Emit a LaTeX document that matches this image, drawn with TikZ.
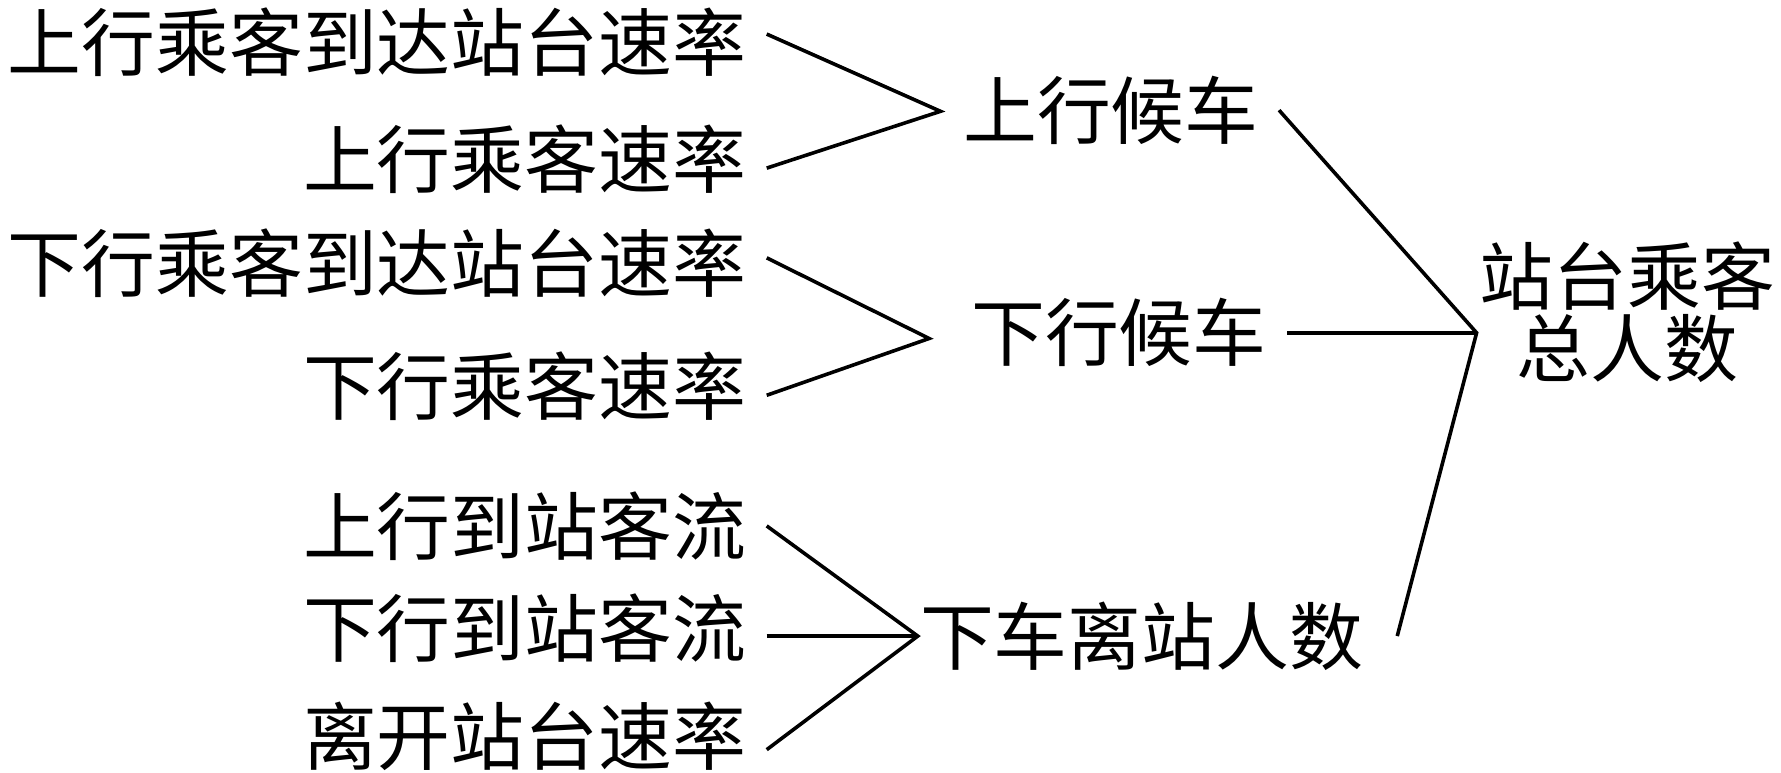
\documentclass[tikz,border=0pt]{standalone}
\usepackage{fontspec}
\usepackage{tikz}
\newfontfamily\cjk{Noto Sans CJK SC}

\begin{document}
\begin{tikzpicture}[line width=0.9pt,
  lbl/.style={font=\cjk\fontsize{18.5pt}{17pt}\selectfont, inner sep=0pt, outer sep=0.18cm}]
\useasboundingbox (0, 0) rectangle (15.68, 6.80);
% left column
\node [lbl, anchor=east] (upArr) at (6.75, 6.43) {上行乘客到达站台速率};
\node [lbl, anchor=east] (upRate) at (6.75, 5.40) {上行乘客速率};
\node [lbl, anchor=east] (dnArr) at (6.75, 4.48) {下行乘客到达站台速率};
\node [lbl, anchor=east] (dnRate) at (6.75, 3.40) {下行乘客速率};
\node [lbl, anchor=east] (upFlow) at (6.75, 2.17) {上行到站客流};
\node [lbl, anchor=east] (dnFlow) at (6.75, 1.27) {下行到站客流};
\node [lbl, anchor=east] (leave) at (6.75, 0.32) {离开站台速率};
% middle column
\node [lbl, anchor=west] (upWait) at (8.30, 5.83) {上行候车};
\node [lbl, anchor=west] (dnWait) at (8.37, 3.87) {下行候车};
\node [lbl, anchor=west] (offNum) at (7.92, 1.20) {下车离站人数};
% right
\node [lbl, align=center] (total) at (14.33, 4.05) {站台乘客\\总人数};
\coordinate (jUp) at (8.28, 5.82);
\coordinate (jDn) at (8.18, 3.82);
\coordinate (jOff) at (8.08, 1.20);
\coordinate (jTot) at (13.00, 3.87);
\draw ([yshift=0.07cm]upArr.east) -- (jUp) -- ([yshift=-0.08cm]upRate.east);
\draw ([yshift=0.05cm]dnArr.east) -- (jDn) -- ([yshift=-0.08cm]dnRate.east);
\draw (upFlow.east) -- (jOff) -- ([yshift=-0.12cm]leave.east);
\draw (dnFlow.east |- jOff) -- (jOff);
\draw (upWait.east) -- (jTot) -- ([xshift=0.12cm]offNum.east);
\draw (dnWait.east) -- (jTot);
\end{tikzpicture}
\end{document}
